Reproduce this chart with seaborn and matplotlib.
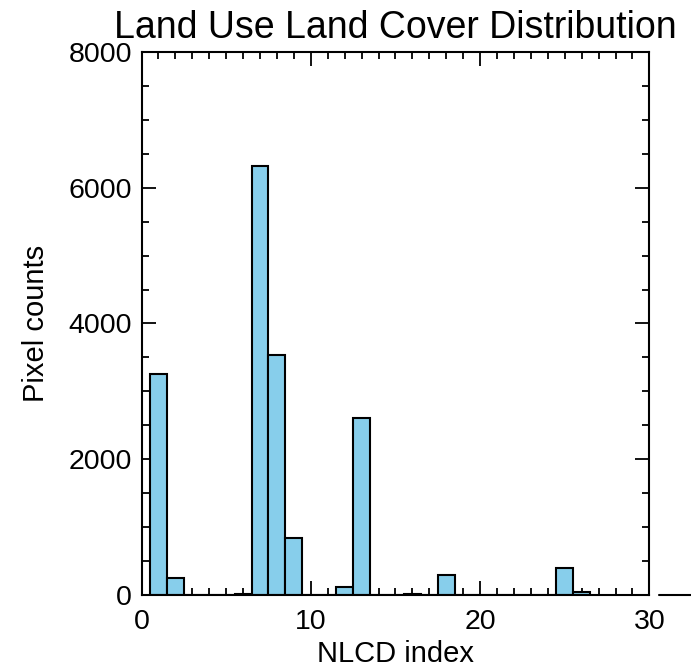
import matplotlib
matplotlib.use("Agg")
import matplotlib.pyplot as plt
from matplotlib.ticker import MultipleLocator
import seaborn as sns
import pandas as pd

# NLCD class index and pixel count per class
nlcd_index = [1, 2, 6, 7, 8, 9, 12, 13, 16, 18, 25, 26]
pixel_counts = [3250, 250, 20, 6320, 3540, 840, 120, 2610, 15, 290, 390, 45]

title = "Land Use Land Cover Distribution"
x_label = "NLCD index"
y_label = "Pixel counts"

sns.set_style("ticks")
plt.rcParams["font.family"] = ["Liberation Sans", "DejaVu Sans"]
plt.rcParams["text.color"] = "black"
plt.rcParams["axes.labelcolor"] = "black"
plt.rcParams["xtick.color"] = "black"
plt.rcParams["ytick.color"] = "black"

df = pd.DataFrame({"nlcd": nlcd_index, "count": pixel_counts})

fig = plt.figure(figsize=(6.91, 6.67), dpi=100)
ax = fig.add_axes([0.2048, 0.108, 0.735, 0.814])

sns.histplot(data=df, x="nlcd", weights="count", discrete=True, shrink=1.0,
             color="#87CEEB", alpha=1.0, edgecolor="black", linewidth=1.5, ax=ax)

ax.set_xlim(0, 30)
ax.set_ylim(0, 8000)
ax.xaxis.set_major_locator(MultipleLocator(10))
ax.xaxis.set_minor_locator(MultipleLocator(1))
ax.yaxis.set_major_locator(MultipleLocator(2000))
ax.yaxis.set_minor_locator(MultipleLocator(500))

for side in ["top", "right", "bottom", "left"]:
    ax.spines[side].set_visible(True)
    ax.spines[side].set_linewidth(1.5)
    ax.spines[side].set_color("black")

ax.tick_params(which="both", direction="in", top=True, right=True,
               width=1.3, color="black", labelsize=20.5, labelcolor="black")
ax.tick_params(axis="y", which="both", pad=7)
ax.tick_params(axis="x", which="both", pad=10)
ax.tick_params(which="major", length=10)
ax.tick_params(which="minor", length=5)

# baseline of the histogram continues past the right edge of the frame
ax.plot([30.55, 32.5], [0, 0], color="black", lw=1.5, clip_on=False)

ax.set_title(title, fontsize=27, pad=10, color="black")
ax.set_xlabel(x_label, fontsize=21, labelpad=4, color="black")
ax.set_ylabel(y_label, fontsize=21, labelpad=13, color="black")

fig.savefig("out.png", dpi=100)
